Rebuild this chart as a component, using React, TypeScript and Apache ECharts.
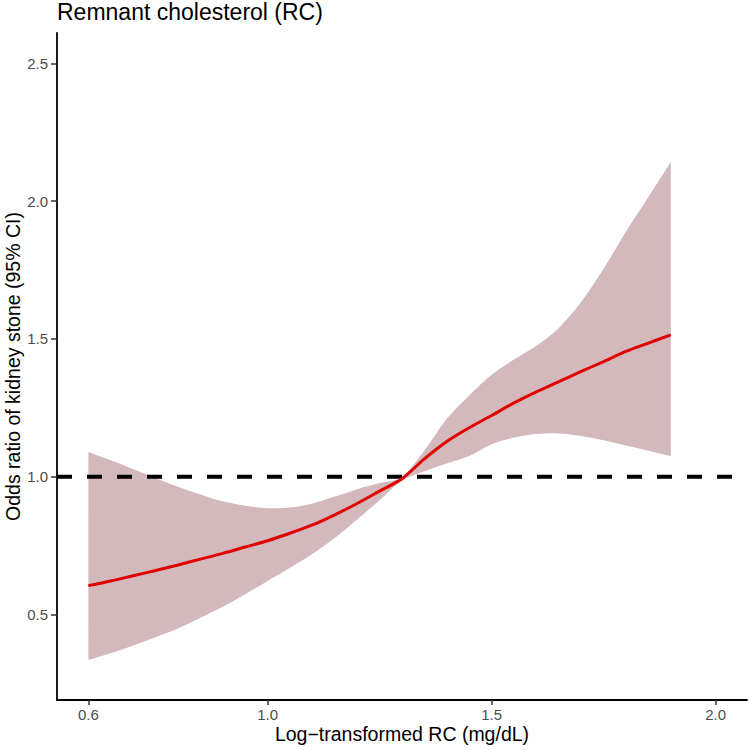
import React, { useEffect, useRef } from "react";
import * as echarts from "echarts";

const xValues = [0.6, 0.65, 0.7, 0.75, 0.8, 0.85, 0.9, 0.95, 1.0, 1.05, 1.1, 1.15, 1.2, 1.25, 1.3, 1.35, 1.4, 1.45, 1.5, 1.55, 1.6, 1.65, 1.7, 1.75, 1.8, 1.85, 1.9];
const orValues = [0.605, 0.622, 0.641, 0.66, 0.68, 0.701, 0.722, 0.745, 0.768, 0.795, 0.825, 0.862, 0.903, 0.948, 0.993, 1.065, 1.128, 1.178, 1.222, 1.268, 1.308, 1.345, 1.382, 1.418, 1.455, 1.485, 1.515];
const lowerCI = [0.336, 0.36, 0.388, 0.418, 0.449, 0.488, 0.528, 0.574, 0.622, 0.67, 0.72, 0.778, 0.845, 0.915, 0.986, 1.02, 1.048, 1.075, 1.118, 1.142, 1.155, 1.157, 1.148, 1.132, 1.113, 1.094, 1.074];
const upperCI = [1.09, 1.06, 1.028, 0.995, 0.964, 0.936, 0.911, 0.895, 0.886, 0.888, 0.903, 0.928, 0.955, 0.977, 0.999, 1.095, 1.21, 1.295, 1.37, 1.425, 1.475, 1.54, 1.635, 1.755, 1.89, 2.015, 2.143];
const xTicks = [0.6, 1.0, 1.5, 2.0];
const yTicks = [0.5, 1.0, 1.5, 2.0, 2.5];
const refLine = [[0.53, 1], [2.07, 1]];

function smoothThrough(ctx: any, pts: number[][], moveFirst: boolean) {
  const s = 0.15;
  const n = pts.length;
  if (moveFirst) ctx.moveTo(pts[0][0], pts[0][1]);
  else ctx.lineTo(pts[0][0], pts[0][1]);
  for (let i = 0; i < n - 1; i++) {
    const p0 = pts[Math.max(i - 1, 0)];
    const p1 = pts[i];
    const p2 = pts[i + 1];
    const p3 = pts[Math.min(i + 2, n - 1)];
    ctx.bezierCurveTo(
      p1[0] + (p2[0] - p0[0]) * s,
      p1[1] + (p2[1] - p0[1]) * s,
      p2[0] - (p3[0] - p1[0]) * s,
      p2[1] - (p3[1] - p1[1]) * s,
      p2[0],
      p2[1]
    );
  }
}

const BandShape = (echarts.graphic as any).extendShape({
  type: "ciBand",
  shape: { upper: [] as number[][], lower: [] as number[][] },
  buildPath(ctx: any, shape: any) {
    if (!shape.upper.length) return;
    smoothThrough(ctx, shape.upper, true);
    smoothThrough(ctx, shape.lower.slice().reverse(), false);
    ctx.closePath();
  },
});
(echarts.graphic as any).registerShape("ciBand", BandShape);

export default function App() {
  const ref = useRef<HTMLDivElement>(null);
  useEffect(() => {
    if (!ref.current) return;
    const chart = echarts.init(ref.current, null, { renderer: "svg" });
    const font = "Liberation Sans, Arial, sans-serif";
    chart.setOption({
      animation: false,
      backgroundColor: "#ffffff",
      title: {
        text: "Remnant cholesterol (RC)",
        left: 57,
        top: 0,
        padding: 0,
        textStyle: { fontFamily: font, fontSize: 23, fontWeight: "normal", color: "#000000" },
      },
      grid: { left: 57, right: 3, top: 33, bottom: 50, containLabel: false, outerBoundsMode: "none" },
      xAxis: {
        type: "value",
        min: 0.53,
        max: 2.07,
        z: 10,
        splitLine: { show: false },
        axisLine: { show: true, onZero: false, lineStyle: { color: "#000000", width: 1.8 } },
        axisTick: { show: true, length: 5, customValues: xTicks, lineStyle: { color: "#333333", width: 1.5 } },
        axisLabel: {
          customValues: xTicks,
          formatter: (v: number) => v.toFixed(1),
          color: "#4D4D4D",
          fontSize: 15,
          fontFamily: font,
          margin: 7,
        },
        name: "Log\u2212transformed RC (mg/dL)",
        nameLocation: "middle",
        nameGap: 24,
        nameMoveOverlap: false,
        nameTextStyle: { fontFamily: font, fontSize: 19.5, color: "#000000" },
      },
      yAxis: {
        type: "value",
        min: 0.19,
        max: 2.61,
        z: 10,
        splitLine: { show: false },
        axisLine: { show: true, onZero: false, lineStyle: { color: "#000000", width: 1.8 } },
        axisTick: { show: true, length: 6, customValues: yTicks, lineStyle: { color: "#333333", width: 1.5 } },
        axisLabel: {
          customValues: yTicks,
          formatter: (v: number) => v.toFixed(1),
          color: "#4D4D4D",
          fontSize: 15,
          fontFamily: font,
          margin: 9,
        },
        name: "Odds ratio of kidney stone (95% CI)",
        nameLocation: "middle",
        nameGap: 34,
        nameRotate: 90,
        nameMoveOverlap: false,
        nameTextStyle: { fontFamily: font, fontSize: 19.5, color: "#000000" },
      },
      series: [
        {
          type: "custom",
          data: xValues.map((x, i) => [x, lowerCI[i], upperCI[i]]),
          encode: { x: 0, y: [1, 2] },
          silent: true,
          z: 1,
          renderItem: (params: any, api: any) => {
            if (params.dataIndex !== 0) return null;
            const upper = xValues.map((x, i) => api.coord([x, upperCI[i]]));
            const lower = xValues.map((x, i) => api.coord([x, lowerCI[i]]));
            return {
              type: "ciBand",
              shape: { upper, lower },
              style: { fill: "#D3B9BB", stroke: null },
            };
          },
        },
        {
          type: "line",
          data: refLine,
          symbol: "none",
          lineStyle: { color: "#000000", width: 4, type: [15, 15] },
          silent: true,
          z: 3,
        },
        {
          type: "line",
          data: xValues.map((x, i) => [x, orValues[i]]),
          smooth: 0.3,
          symbol: "none",
          lineStyle: { color: "#E00000", width: 3 },
          silent: true,
          z: 4,
        },
      ],
    });
    return () => chart.dispose();
  }, []);
  return <div ref={ref} style={{ position: "fixed", left: 0, top: 0, width: 750, height: 750 }} />;
}
